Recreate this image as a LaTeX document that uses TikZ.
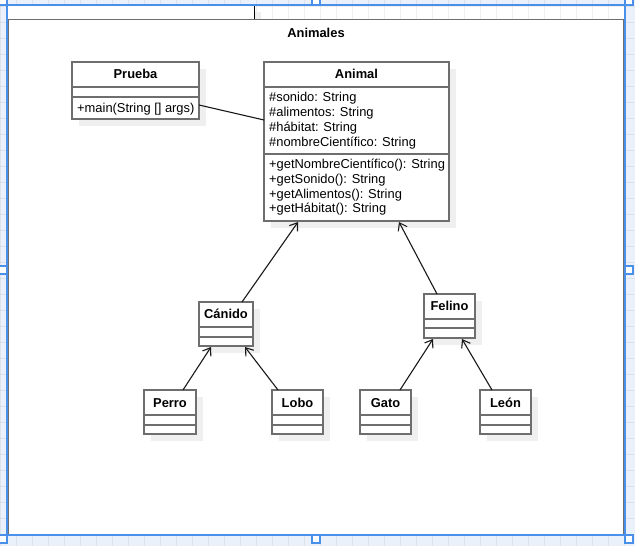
\documentclass[tikz,border=0pt]{standalone}
\usepackage{fontspec}
\setmainfont{Liberation Sans}
\usetikzlibrary{calc,arrows.meta,shadows}

\definecolor{canvasblue}{HTML}{EAF1FB}
\definecolor{selblue}{HTML}{4A8FE8}
\definecolor{frame}{HTML}{6E6E6E}
\definecolor{shade}{HTML}{EFEFEF}

\tikzset{
  gridline/.style={draw=black, opacity=0.06, line width=0.8pt},
  pkgbody/.style={draw=frame, line width=1.8pt, fill=white, inner sep=0pt, outer sep=0pt},
  pkgtab/.style={fill=white, inner sep=0pt, outer sep=0pt,
    drop shadow={shadow xshift=7pt, shadow yshift=-7pt, fill=shade, opacity=1}},
  clsbox/.style={draw=frame, line width=1.8pt, fill=white, inner sep=0pt, outer sep=0pt,
    drop shadow={shadow xshift=7pt, shadow yshift=-7pt, fill=shade, opacity=1}},
  clsline/.style={draw=frame, line width=1.8pt},
  clsname/.style={font=\bfseries\fontsize{12.9}{15}\selectfont, inner sep=0pt, anchor=base},
  member/.style={font=\fontsize{12.9}{15}\selectfont, inner sep=0pt, anchor=base west},
  assoc/.style={draw=black!90, line width=1.1pt},
  inherit/.style={assoc, -{Straight Barb[length=7pt,width=10pt]}},
  selline/.style={draw=selblue, line width=1.4pt},
  handle/.style={draw=selblue, fill=white, line width=1.4pt},
}

% class box: name, left, top, width, height, first divider, second divider
\newcommand{\umlcls}[7]{%
  \node[clsbox, minimum width=#4, minimum height=#5, anchor=north west] (#1) at (#2,#3) {};
  \draw[clsline] ($(#1.north west)+(0,#6)$) -- ($(#1.north east)+(0,#6)$);
  \draw[clsline] ($(#1.north west)+(0,#7)$) -- ($(#1.north east)+(0,#7)$);
}

\begin{document}
\begin{tikzpicture}[x=1pt,y=-1pt]
\useasboundingbox (0,0) rectangle (635,546);
\clip (0,0) rectangle (635,546);

% canvas and grid
\fill[canvasblue] (0,0) rectangle (635,546);
\fill[white] (7,5) rectangle (625,535);
\foreach \i in {0,...,39} \draw[gridline] (16*\i,0) -- (16*\i,546);
\foreach \j in {0,...,34} \draw[gridline] (0,6+16*\j) -- (635,6+16*\j);

% package Animales
\node[pkgtab, minimum width=246, minimum height=14, anchor=north west] (tab) at (8,5) {};
\draw[black, line width=1pt] (tab.north east) -- (tab.south east);
\node[pkgbody, minimum width=616, minimum height=515, anchor=north west] (pkg) at (8,19.5) {};
\node[clsname] (pkgtitle) at (316,37.5) {Animales};

% classes
\umlcls{prueba}{72}{62}{127}{57}{25}{35}
\umlcls{animal}{264}{62}{185}{159}{25}{92}
\umlcls{canido}{199}{302}{54}{44}{25}{35}
\umlcls{felino}{424}{294}{51}{44}{25}{34}
\umlcls{perro}{144}{390}{52}{44}{25}{35}
\umlcls{lobo}{272}{390}{51}{44}{25}{35}
\umlcls{gato}{360}{390}{51}{44}{25}{35}
\umlcls{leon}{480}{390}{51}{44}{25}{35}

\node[clsname] (prueba-name) at ($(prueba.north)+(0,16.8)$) {Prueba};
\node[clsname] (animal-name) at ($(animal.north)+(0,16.8)$) {Animal};
\node[clsname] (canido-name) at ($(canido.north)+(0,16.8)$) {Cánido};
\node[clsname] (felino-name) at ($(felino.north)+(0,16.8)$) {Felino};
\node[clsname] (perro-name) at ($(perro.north)+(0,17)$) {Perro};
\node[clsname] (lobo-name) at ($(lobo.north)+(0,17)$) {Lobo};
\node[clsname] (gato-name) at ($(gato.north)+(0,17)$) {Gato};
\node[clsname] (leon-name) at ($(leon.north)+(0,17)$) {León};

\node[member] (prueba-m1) at ($(prueba.north west)+(5,50.5)$) {+main(String [] args)};

\foreach \t [count=\k from 0] in {\#sonido: String, \#alimentos: String, \#hábitat: String, \#nombreCientífico: String}
  \node[member] (animal-a\k) at ($(animal.north west)+(5,39.8+14.8*\k)$) {\t};
\foreach \t [count=\k from 0] in {+getNombreCientífico(): String, +getSonido(): String, +getAlimentos(): String, +getHábitat(): String}
  \node[member] (animal-m\k) at ($(animal.north west)+(5,106.5+14.8*\k)$) {\t};

% relations
\draw[assoc] ($(prueba.south east)+(0,-14)$) -- ($(animal.north west)+(0,58)$);
\draw[inherit] ($(canido.north)+(16,0)$) -- ($(animal.south west)+(34,1)$);
\draw[inherit] ($(felino.north)+(-12.5,0)$) -- ($(animal.south east)+(-50,1)$);
\draw[inherit] ($(perro.north)+(13,0)$) -- ($(canido.south west)+(12,1)$);
\draw[inherit] ($(lobo.north)+(-19.5,0)$) -- ($(canido.south east)+(-8,1)$);
\draw[inherit] ($(gato.north)+(14.5,0)$) -- ($(felino.south west)+(9,1)$);
\draw[inherit] ($(leon.north)+(-13.5,0)$) -- ($(felino.south east)+(-13,1)$);

% selection frame with handles
\draw[selline] (7,5) rectangle (625,535);
\foreach \hx/\hy in {3/1, 316/1, 629/1, 3/270, 629/270, 3/539, 316/539, 629/539}
  \draw[handle] (\hx-4,\hy-4) rectangle (\hx+4,\hy+4);
\end{tikzpicture}
\end{document}
